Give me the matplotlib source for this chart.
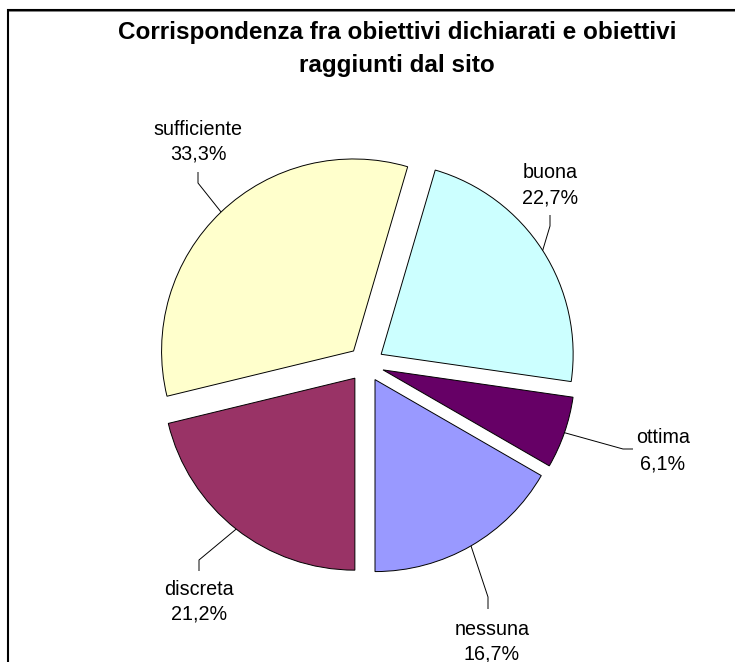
import matplotlib
matplotlib.use("Agg")
import matplotlib.pyplot as plt
import numpy as np

plt.rcParams['font.family'] = ['Liberation Sans', 'DejaVu Sans']

# ---- data ----
categories = ["buona", "ottima", "nessuna", "discreta", "sufficiente"]
counts = [15, 4, 11, 14, 22]
pct_labels = ["22,7%", "6,1%", "16,7%", "21,2%", "33,3%"]
colors = ["#CCFFFF", "#660066", "#9999FF", "#993366", "#FFFFCC"]
title_lines = ["Corrispondenza fra obiettivi dichiarati e obiettivi",
               "raggiunti dal sito"]

W, H = 735, 662
fig = plt.figure(figsize=(W / 100, H / 100), dpi=100)
ax = fig.add_axes([0, 0, 1, 1])

def Y(y):  # screen y (top-down) -> axes y
    return H - y

cx, cy, R = 366, Y(364), 192
total = sum(counts)
start = 90 - (180 - 360 * sum(counts[:3]) / total)

# explode is in data units (pixels here)
wedges, _ = ax.pie(counts, colors=colors, explode=[18] * len(counts),
                   startangle=start, counterclock=False, center=(cx, cy),
                   radius=R, frame=True,
                   wedgeprops=dict(edgecolor="black", linewidth=0.7))

ax.set_xlim(0, W)
ax.set_ylim(0, H)
ax.set_aspect('equal')
ax.axis('off')

# label layout (screen coords): text x, baseline line1, baseline line2, bend point, end point
layout = {
    "sufficiente": dict(x=198, b1=135, b2=160, bend=(198, 183), end=(198, 172)),
    "buona":       dict(x=550, b1=178, b2=204, bend=(550, 226), end=(550, 215)),
    "ottima":      dict(x=663, b1=443, b2=469, bend=(623, 449), end=(633, 449)),
    "nessuna":     dict(x=492, b1=635, b2=659, bend=(488, 597), end=(488, 609)),
    "discreta":    dict(x=199, b1=595, b2=620, bend=(199, 560), end=(199, 571)),
}

fs = 14.2
for w, cat, pl in zip(wedges, categories, pct_labels):
    L = layout[cat]
    ang = np.deg2rad((w.theta1 + w.theta2) / 2)
    px = w.center[0] + w.r * np.cos(ang)
    py = w.center[1] + w.r * np.sin(ang)
    ax.plot([px, L["bend"][0], L["end"][0]],
            [py, Y(L["bend"][1]), Y(L["end"][1])],
            color="black", lw=0.7, solid_capstyle="butt")
    ax.text(L["x"], Y(L["b1"]), cat, ha="center", va="baseline", fontsize=fs)
    ax.text(L["x"], Y(L["b2"]), pl, ha="center", va="baseline", fontsize=fs)

# title
ax.text(397, Y(39), title_lines[0], ha="center", va="baseline",
        fontsize=17.5, fontweight="bold")
ax.text(397, Y(72), title_lines[1], ha="center", va="baseline",
        fontsize=17.5, fontweight="bold")

# chart-area border (top and left visible)
ax.plot([8.5, 8.5, W], [0, Y(9.5), Y(9.5)], color="black", lw=1.5,
        solid_joinstyle="miter")
ax.plot([9.5, W], [Y(11), Y(11)], color="#808080", lw=0.7)

fig.savefig("out.png", dpi=100)
